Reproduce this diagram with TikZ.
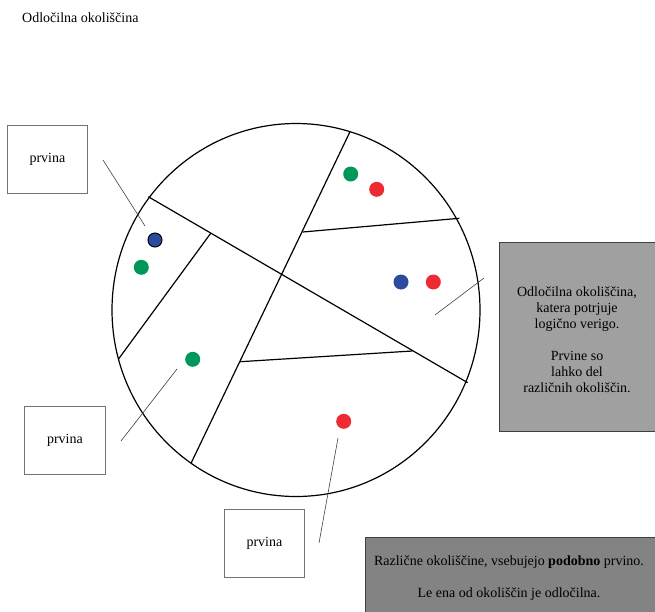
\documentclass[tikz,border=0pt]{standalone}
\usepackage{fontspec}
\setmainfont{Liberation Serif}
\definecolor{dotgreen}{HTML}{00985A}
\definecolor{dotred}{HTML}{EE2B33}
\definecolor{dotblue}{HTML}{2B4AA0}
\definecolor{lightbox}{HTML}{A0A0A0}
\definecolor{darkbox}{HTML}{838383}
\begin{document}
\begin{tikzpicture}[x=1pt,y=-1pt,
  txt/.style={font=\fontsize{14}{16}\selectfont, inner sep=0pt},
  prvbox/.style={draw=black!55, line width=0.9pt, fill=white, minimum width=80pt, minimum height=68pt, anchor=north west, inner sep=0pt, font=\fontsize{14}{16}\selectfont},
  infobox/.style={draw=black!75, line width=1pt, anchor=north west, inner sep=0pt},
  infotext/.style={inner sep=0pt, align=center, font=\fontsize{14}{16}\selectfont},
  part/.style={line width=1.2pt, black},
  pointer/.style={line width=0.6pt, black!75},
  dot/.style={circle, minimum size=15pt, inner sep=0pt},
]
\useasboundingbox (0,0) rectangle (655,611);

% title
\node[txt, anchor=west] (title) at (22,18) {Odločilna okoliščina};

% circle and parts
\draw[part] (296,310) ellipse (184 and 186.5);
\coordinate (a1) at (148.3,196.7); \coordinate (a2) at (467.7,382.7);
\coordinate (b1) at (350,131.7);   \coordinate (b2) at (191,463.3);
\coordinate (c1) at (302.7,232);   \coordinate (c2) at (459.3,218.3);
\coordinate (d1) at (240,361.7);   \coordinate (d2) at (412.3,351);
\coordinate (e1) at (210.7,233.3); \coordinate (e2) at (118.3,359.3);
\draw[part] (a1) -- (a2);
\draw[part] (b1) -- (b2);
\draw[part] (c1) -- (c2);
\draw[part] (d1) -- (d2);
\draw[part] (e1) -- (e2);

% dots
\node[dot, fill=dotgreen] (g1) at (350.7,174) {};
\node[dot, fill=dotred] (r1) at (376.7,189.3) {};
\node[dot, fill=dotblue, draw=black, line width=1pt, minimum size=14pt] (bl1) at (155,240) {};
\node[dot, fill=dotgreen] (g2) at (141.3,267.3) {};
\node[dot, fill=dotblue] (bl2) at (401,282) {};
\node[dot, fill=dotred] (r2) at (433.3,282) {};
\node[dot, fill=dotgreen] (g3) at (192.7,359.3) {};
\node[dot, fill=dotred] (r3) at (343.7,421.3) {};

% prvina boxes
\node[prvbox] (p1) at (7,125) {prvina};
\node[prvbox, minimum width=81pt] (p2) at (24,406) {prvina};
\node[prvbox, minimum width=80pt] (p3) at (224,509) {prvina};

% info boxes
\node[infobox, fill=lightbox, minimum width=157pt, minimum height=189pt] (i1) at (499,242) {};
\node[infotext] (i1t) at (577,339.5)
  {Odločilna okoliščina,\\ katera potrjuje\\ logično verigo.\\[16pt] Prvine so\\ lahko del\\ različnih okoliščin.};
\node[infobox, fill=darkbox, minimum width=291pt, minimum height=82pt] (i2) at (365,537) {};
\node[infotext] (i2t) at (509,578)
  {Različne okoliščine, vsebujejo \textbf{podobno} prvino.\\[16pt] Le ena od okoliščin je odločilna.};

% pointers
\coordinate (q1a) at (103,160); \coordinate (q1b) at (145,226);
\coordinate (q2a) at (121,441); \coordinate (q2b) at (177,369);
\coordinate (q3a) at (338,438); \coordinate (q3b) at (319,543);
\coordinate (q4a) at (484,278); \coordinate (q4b) at (435,315);
\draw[pointer] (q1a) -- (q1b);
\draw[pointer] (q2a) -- (q2b);
\draw[pointer] (q3a) -- (q3b);
\draw[pointer] (q4a) -- (q4b);
\end{tikzpicture}
\end{document}
